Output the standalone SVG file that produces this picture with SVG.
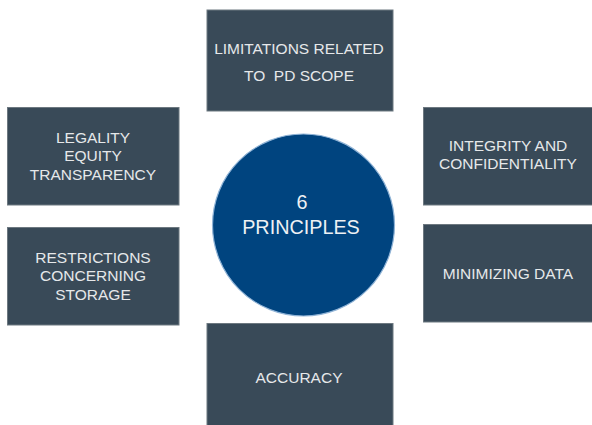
<svg xmlns="http://www.w3.org/2000/svg" width="592" height="425" viewBox="0 0 592 425">
  <style>
    .box { fill: #394a58; stroke: #6d7880; stroke-width: 1; }
    .lbl { font-family: "Liberation Sans", Arial, sans-serif; font-size: 15.5px; fill: #e6e8ea; text-anchor: middle; white-space: pre; }
    .big { font-family: "Liberation Sans", Arial, sans-serif; font-size: 19.8px; fill: #eef1f4; text-anchor: middle; }
  </style>
  <rect width="592" height="425" fill="#ffffff"/>

  <g id="scope">
    <rect class="box" x="207" y="10" width="186" height="101"/>
    <text class="lbl" x="299" y="54">LIMITATIONS RELATED</text>
    <text class="lbl" x="299" y="81" xml:space="preserve">TO  PD SCOPE</text>
  </g>

  <g id="legality">
    <rect class="box" x="7.5" y="107.5" width="171.5" height="97.5"/>
    <text class="lbl" x="93" y="143">LEGALITY</text>
    <text class="lbl" x="93" y="161">EQUITY</text>
    <text class="lbl" x="93" y="180">TRANSPARENCY</text>
  </g>

  <g id="storage">
    <rect class="box" x="7.5" y="227.5" width="171.5" height="97.5"/>
    <text class="lbl" x="93" y="263">RESTRICTIONS</text>
    <text class="lbl" x="93" y="281">CONCERNING</text>
    <text class="lbl" x="93" y="300">STORAGE</text>
  </g>

  <g id="integrity">
    <rect class="box" x="423.5" y="107.5" width="170" height="97.5"/>
    <text class="lbl" x="508" y="151">INTEGRITY AND</text>
    <text class="lbl" x="508" y="169">CONFIDENTIALITY</text>
  </g>

  <g id="minimizing">
    <rect class="box" x="423.5" y="224.5" width="170" height="97.5"/>
    <text class="lbl" x="508" y="279">MINIMIZING DATA</text>
  </g>

  <g id="accuracy">
    <rect class="box" x="207" y="323.5" width="186" height="103"/>
    <text class="lbl" x="299" y="383">ACCURACY</text>
  </g>

  <g id="center">
    <circle cx="303.5" cy="225" r="91" fill="#00447f" stroke="#8fb3d6" stroke-width="1.2"/>
    <text class="big" x="302" y="209">6</text>
    <text class="big" x="301" y="234">PRINCIPLES</text>
  </g>

  <g id="connectors"></g>
</svg>
